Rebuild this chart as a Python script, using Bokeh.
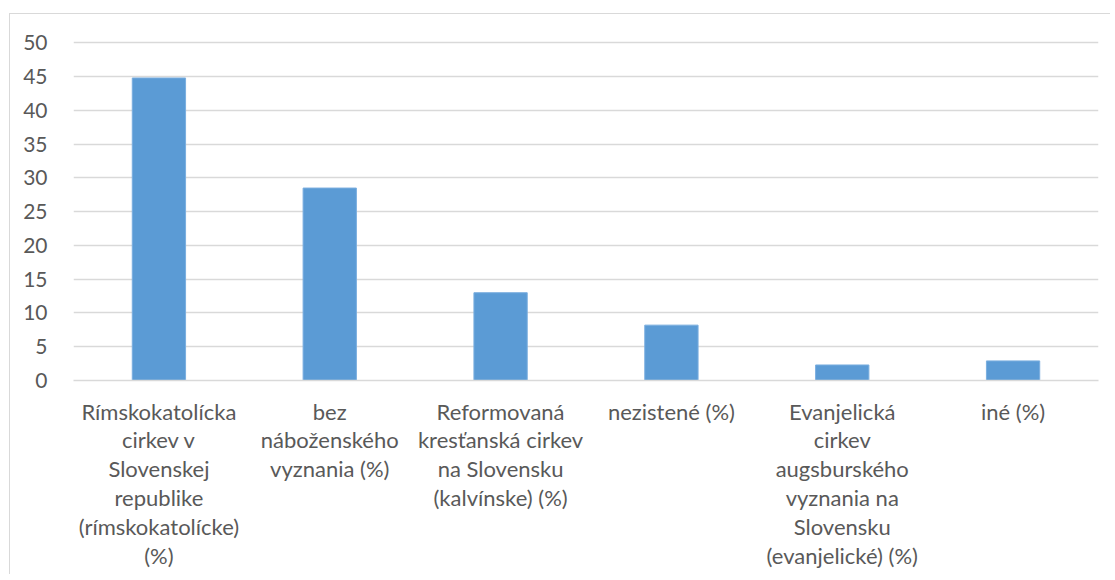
from bokeh.plotting import figure
from bokeh.models import Range1d, FixedTicker, ColumnDataSource
from bokeh.embed import file_html
from bokeh.resources import INLINE

categories = [
    "Rímskokatolícka cirkev v Slovenskej republike (rímskokatolícke) (%)",
    "bez náboženského vyznania (%)",
    "Reformovaná kresťanská cirkev na Slovensku (kalvínske) (%)",
    "nezistené (%)",
    "Evanjelická cirkev augsburského vyznania na Slovensku (evanjelické) (%)",
    "iné (%)",
]
tick_labels = [
    "Rímskokatolícka\ncirkev v\nSlovenskej\nrepublike\n(rímskokatolícke)\n(%)",
    "bez\nnáboženského\nvyznania (%)",
    "Reformovaná\nkresťanská cirkev\nna Slovensku\n(kalvínske) (%)",
    "nezistené (%)",
    "Evanjelická\ncirkev\naugsburského\nvyznania na\nSlovensku\n(evanjelické) (%)",
    "iné (%)",
]
values = [44.8, 28.5, 13.0, 8.2, 2.3, 2.9]
y_ticks = [0, 5, 10, 15, 20, 25, 30, 35, 40, 45, 50]

FONT = "Lato"
TXT = "#595959"
GRID = "#D9D9D9"

xpos = list(range(len(categories)))
src = ColumnDataSource(dict(x=xpos, val=values, cat=categories))

p = figure(
    width=1108, height=569,
    x_range=Range1d(-0.5, len(categories) - 0.5),
    y_range=Range1d(0, 50.5),
    output_backend="svg", toolbar_location=None,
    min_border_left=71, min_border_right=12, min_border_top=34, min_border_bottom=194,
    margin=(5, 0, 0, 2),
)
p.styles = {
    "background-color": "white",
    "background-image": "linear-gradient(#D9D9D9, #D9D9D9), linear-gradient(#D9D9D9, #D9D9D9)",
    "background-position": "7px 8px, 7px 8px",
    "background-size": "100% 1px, 1px 100%",
    "background-repeat": "no-repeat, no-repeat",
}
p.outline_line_color = None
p.background_fill_color = "white"
p.border_fill_color = None

p.vbar(x="x", top="val", width=0.312, source=src,
       fill_color="#5B9BD5", line_color="#7AAEDF", line_width=1)

p.xgrid.grid_line_color = None
p.ygrid.grid_line_color = GRID
p.ygrid.grid_line_width = 1.5
p.ygrid.ticker = FixedTicker(ticks=y_ticks)

p.yaxis.ticker = FixedTicker(ticks=y_ticks)
p.yaxis.axis_line_color = None
p.yaxis.major_tick_line_color = None
p.yaxis.minor_tick_line_color = None
p.yaxis.major_label_standoff = 20
p.yaxis.major_label_text_font = FONT
p.yaxis.major_label_text_font_size = "21px"
p.yaxis.major_label_text_color = TXT

p.xaxis.ticker = FixedTicker(ticks=xpos)
p.xaxis.axis_line_color = GRID
p.xaxis.axis_line_width = 1.5
p.xaxis.major_tick_line_color = None
p.xaxis.minor_tick_line_color = None
p.xaxis.major_label_overrides = {i: lab for i, lab in zip(xpos, tick_labels)}
p.xaxis.major_label_standoff = 11
p.xaxis.major_label_text_font = FONT
p.xaxis.major_label_text_font_size = "22px"
p.xaxis.major_label_text_color = TXT
p.xaxis.major_label_text_line_height = 1.07
p.xaxis.major_label_text_align = "center"

open("out.html", "w").write(file_html(p, INLINE))
